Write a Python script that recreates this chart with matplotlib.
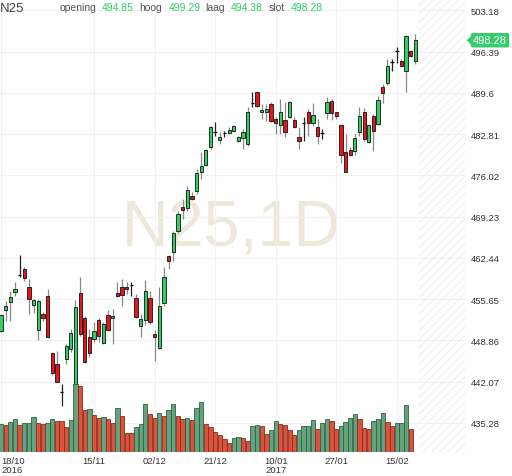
import matplotlib
matplotlib.use('Agg')
import matplotlib.pyplot as plt
import matplotlib.transforms as mtransforms
from matplotlib.patches import Polygon
import numpy as np

plt.rcParams['font.family'] = ['Liberation Sans', 'DejaVu Sans']

# ---------------- data ----------------
OPEN = [450.47, 453.93, 455.24, 456.89, 459.65, 460.63, 457.71, 454.75, 450.63, 453.22,
        456.23, 446.80, 444.99, 440.30, 445.81, 447.46, 437.09, 456.67, 452.56, 449.43,
        449.10, 452.23, 448.44, 453.05, 452.56, 456.67, 457.66, 457.66, 457.95, 455.85,
        451.24, 452.23, 455.85, 449.93, 447.62, 455.03, 462.76, 463.37, 466.88, 470.83,
        470.67, 472.64, 473.46, 476.59, 477.74, 480.71, 483.10, 481.86, 482.98, 483.01,
        483.34, 481.70, 482.19, 481.20, 487.92, 489.76, 486.47, 486.47, 487.79, 485.32,
        484.33, 485.15, 485.65, 485.15, 482.35, 484.62, 486.47, 484.66, 484.00, 482.98,
        486.30, 488.28, 486.47, 484.33, 479.88, 480.21, 480.05, 483.18, 486.47, 481.53,
        485.81, 484.49, 490.58, 491.24, 494.66, 496.47, 494.86, 493.22, 496.51, 494.85]
HIGH = [453.22, 455.41, 457.05, 458.53, 462.93, 460.90, 458.98, 455.69, 455.69, 453.50,
        457.33, 446.91, 447.18, 441.70, 448.28, 450.75, 455.52, 459.31, 452.89, 450.75,
        451.90, 452.56, 451.90, 453.88, 454.04, 458.49, 458.98, 458.49, 458.49, 456.51,
        453.22, 458.81, 457.00, 450.58, 457.66, 460.95, 462.93, 466.93, 470.17, 472.15,
        474.29, 473.30, 477.09, 479.88, 480.38, 484.16, 484.82, 483.18, 483.34, 484.00,
        484.33, 482.52, 483.67, 487.29, 489.76, 489.93, 487.79, 487.79, 488.12, 485.65,
        488.61, 488.12, 488.28, 485.65, 484.00, 485.65, 486.96, 487.95, 485.32, 483.67,
        488.94, 488.61, 486.55, 484.49, 482.85, 480.71, 482.85, 487.29, 487.13, 484.49,
        486.14, 489.10, 491.08, 495.19, 495.19, 497.17, 495.19, 499.14, 496.67, 499.29]
LOW = [450.25, 452.11, 452.11, 456.23, 459.26, 458.70, 453.22, 453.38, 448.99, 452.11,
       449.22, 443.18, 441.97, 438.12, 444.99, 446.91, 436.26, 449.60, 445.15, 446.14,
       448.61, 448.61, 448.28, 450.42, 448.28, 456.02, 454.53, 456.51, 456.18, 452.56,
       449.43, 451.41, 451.57, 445.48, 447.46, 454.53, 460.63, 461.99, 466.55, 468.86,
       470.17, 471.98, 472.97, 475.44, 477.58, 480.38, 482.52, 481.20, 482.35, 482.85,
       483.18, 481.53, 480.38, 480.87, 487.29, 487.29, 485.32, 484.99, 484.82, 482.85,
       482.85, 482.35, 485.48, 483.84, 480.38, 481.70, 482.52, 484.16, 481.20, 482.02,
       485.32, 485.15, 485.32, 478.07, 476.51, 479.23, 479.39, 482.52, 481.70, 481.37,
       480.05, 484.33, 487.95, 490.91, 493.22, 494.53, 493.88, 489.76, 495.52, 494.38]
CLOSE = [453.05, 454.58, 455.97, 457.38, 459.72, 459.09, 455.69, 455.57, 455.31, 452.51,
         449.38, 443.51, 442.07, 440.36, 448.00, 450.09, 454.32, 449.93, 445.32, 446.80,
         450.42, 449.60, 451.57, 450.58, 452.89, 456.18, 456.35, 457.33, 458.03, 452.72,
         452.39, 457.00, 451.90, 449.43, 454.53, 459.31, 461.94, 466.55, 469.68, 470.34,
         473.63, 472.15, 476.43, 477.58, 480.21, 484.00, 483.18, 482.35, 483.04, 483.51,
         484.16, 482.35, 483.18, 486.47, 487.98, 487.46, 486.80, 486.96, 484.99, 484.66,
         486.47, 483.18, 488.12, 484.00, 481.70, 484.70, 484.66, 485.98, 482.52, 483.04,
         488.12, 486.30, 485.81, 479.39, 476.59, 479.39, 482.19, 485.81, 482.02, 484.33,
         483.34, 488.44, 489.60, 494.04, 494.74, 496.55, 494.04, 498.98, 495.69, 498.28]
VOLUME = [28.5, 26.8, 30.5, 33.5, 26.8, 29.5, 29.5, 35.5, 29.5, 27.8,
          29.5, 33.5, 31.2, 30.8, 25.5, 31.8, 68.5, 66.5, 42.5, 43.2,
          36.8, 34.5, 35.2, 33.5, 29.2, 44.5, 35.8, 19.5, 19.5, 25.2,
          27.8, 48.5, 38.5, 34.5, 39.2, 36.2, 42.5, 48.5, 36.2, 32.8,
          34.5, 31.8, 44.5, 50.2, 28.5, 25.2, 20.2, 16.8, 13.5, 9.2,
          14.2, 15.2, 14.2, 11.5, 26.2, 26.8, 25.8, 18.5, 21.8, 31.2,
          28.5, 27.5, 22.5, 17.5, 21.8, 26.2, 26.2, 31.8, 23.5, 29.2,
          33.5, 31.2, 23.5, 26.2, 30.2, 34.5, 38.5, 32.8, 24.5, 23.5,
          31.2, 33.5, 39.2, 30.2, 26.2, 29.2, 29.2, 46.8, 23.5]
VOL_UP = [1, 0, 1, 1, 0, 1, 1, 1, 0, 0,
          1, 1, 0, 0, 0, 1, 1, 0, 0, 1,
          0, 0, 1, 0, 0, 1, 0, 0, 0, 1,
          1, 1, 0, 0, 1, 0, 1, 1, 0, 0,
          1, 0, 1, 1, 0, 0, 0, 0, 0, 0,
          1, 1, 0, 0, 1, 1, 0, 0, 1, 1,
          0, 0, 0, 0, 1, 1, 1, 1, 0, 1,
          1, 0, 0, 1, 1, 1, 1, 0, 0, 0,
          1, 1, 1, 0, 0, 1, 1, 1, 0]
PRICE_TICKS = [503.18, 496.39, 489.6, 482.81, 476.02, 469.23, 462.44,
               455.65, 448.86, 442.07, 435.28]
PRICE_TICK_LABELS = ['503.18', '496.39', '489.6', '482.81', '476.02', '469.23',
                     '462.44', '455.65', '448.86', '442.07', '435.28']
DATE_TICK_POS = [0, 20, 33, 46, 59, 72, 85]
DATE_TICK_LABELS = ['18/10\n2016', '15/11', '02/12', '21/12', '10/01\n2017', '27/01', '15/02']
HEADER_LABELS = ['opening', 'hoog', 'laag', 'slot']
HEADER_VALUES = ['494.85', '499.29', '494.38', '498.28']
SYMBOL = 'N25'
WATERMARK = 'N25,1D'
LAST_PRICE = 498.28

# ---------------- figure ----------------
W, H = 512, 477
fig = plt.figure(figsize=(W / 100, H / 100), dpi=100)
AX_R, AX_B = 465, 453
ax = fig.add_axes([0, 1 - AX_B / H, AX_R / W, AX_B / H])
vax = ax.twinx()

n = len(OPEN)
x = np.arange(n)
o = np.array(OPEN); c = np.array(CLOSE); hi = np.array(HIGH); lo = np.array(LOW)

GREEN = '#2fd05e'
RED = '#e8161a'

ax.set_xlim(-0.215, 99.66)
ax.set_ylim(430.50, 505.07)

# watermark
ax.text(0.497, 1 - 247 / AX_B, WATERMARK, transform=ax.transAxes, ha='center',
        va='baseline', fontsize=46.5, color='#eee8db', zorder=0)

# future hatch zone
ax.axvspan(89.7, 99.66, facecolor='none', edgecolor='#f2f2f2', hatch='////',
           linewidth=0, zorder=0.5)

# wicks
doji = np.abs(c - o) < 0.15
wick_col = ['#222222' if d else '#888888' for d in doji]
ax.vlines(x, lo, hi, colors=wick_col, linewidth=0.9, zorder=2)

# bodies
body_col = [GREEN if cc > oo else RED for oo, cc in zip(o, c)]
nd = ~doji
ax.bar(x[nd], np.abs(c - o)[nd], bottom=np.minimum(o, c)[nd], width=0.7,
       color=np.array(body_col)[nd], edgecolor='#111111', linewidth=0.6, zorder=3)
ax.hlines(((o + c) / 2)[doji], x[doji] - 0.38, x[doji] + 0.38, colors='#111111',
          linewidth=0.9, zorder=3)

# volume
nv = len(VOLUME)
vface = ['#66a27e' if u else '#d9533d' for u in VOL_UP]
vedge = ['#2f6141' if u else '#8a2b1d' for u in VOL_UP]
vax.bar(x[:nv], VOLUME, width=0.92, color=vface, edgecolor=vedge, linewidth=0.6, zorder=2)
vax.set_ylim(0, AX_B)
vax.axis('off')

# axes styling
ax.yaxis.tick_right()
ax.set_yticks(PRICE_TICKS)
ax.set_yticklabels(PRICE_TICK_LABELS)
ax.set_xticks(DATE_TICK_POS)
ax.set_xticklabels(DATE_TICK_LABELS, linespacing=0.95)
xl = ax.get_xticklabels()
xl[0].set_horizontalalignment('left')
xl[0].set_multialignment('left')
ax.tick_params(axis='y', length=0, pad=4, labelsize=6.8, labelcolor='#333333')
ax.tick_params(axis='x', length=0, pad=3, labelsize=6.8, labelcolor='#333333')
ax.grid(True, color='#f1f1f1', linewidth=0.8, zorder=0)
ax.set_axisbelow(True)
for s in ax.spines.values():
    s.set_visible(False)

# last price tag
blend = mtransforms.blended_transform_factory(ax.transAxes, ax.transData)
ax.text(473 / AX_R, LAST_PRICE, f'{LAST_PRICE:.2f}', transform=blend, ha='left',
        va='center', fontsize=8, color='white', clip_on=False, zorder=10,
        bbox=dict(boxstyle='round,pad=0.2,rounding_size=0.2', fc='#36cb6c', ec='none'))
ax.add_patch(Polygon([(466.7 / AX_R, LAST_PRICE), (472 / AX_R, LAST_PRICE + 0.85),
                      (472 / AX_R, LAST_PRICE - 0.85)], closed=True, transform=blend,
                     fc='#36cb6c', ec='none', clip_on=False, zorder=10))

# header
fig.text(0 / W, 1 - 11.7 / H, SYMBOL, fontsize=9.5, color='#444444', va='baseline')
lab_x = [59.3, 139.3, 205.7, 268.7]
val_x = [101.7, 168.3, 231.0, 291.0]
for lx, vx, lt, vt in zip(lab_x, val_x, HEADER_LABELS, HEADER_VALUES):
    fig.text(lx / W, 1 - 10.7 / H, lt, fontsize=7.5, color='#555555', va='baseline')
    fig.text(vx / W, 1 - 10.7 / H, vt, fontsize=7.5, color='#2fcc66', va='baseline')

fig.savefig('out.png', dpi=100)
